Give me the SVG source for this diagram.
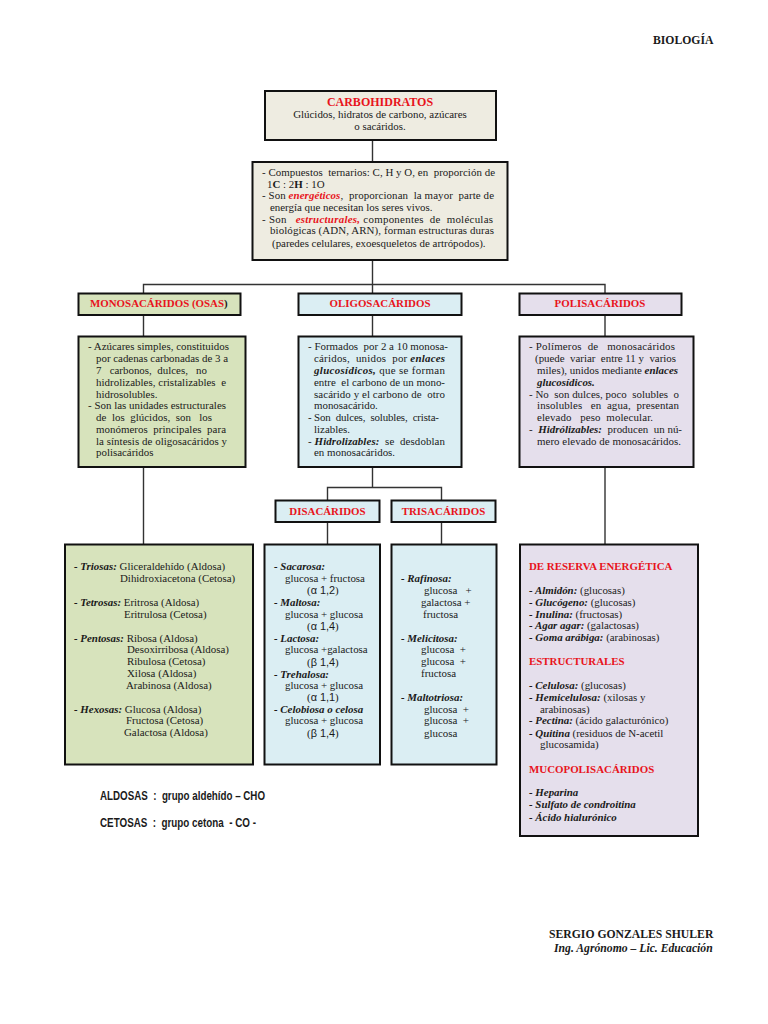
<svg xmlns="http://www.w3.org/2000/svg" width="768" height="1024" viewBox="0 0 768 1024">
<style>
text{font-family:"Liberation Serif","Times New Roman",serif;font-size:10.9px;fill:#1a1a1a;white-space:pre}
.b{font-weight:bold}.i{font-style:italic}.bi{font-weight:bold;font-style:italic}
.r{fill:#e8141c}.rb{fill:#e8141c;font-weight:bold}
.c{text-anchor:middle}
.box{stroke:#111;stroke-width:2}
.beige{fill:#eeece1}.green{fill:#d7e3bc}.blue{fill:#dbeef3}.lilac{fill:#e5dfec}
.con{stroke:#333;stroke-width:1.4;fill:none}
.s{font-family:"Liberation Sans",Arial,sans-serif;font-weight:bold;font-size:12px}
.g{font-family:"Liberation Sans",Arial,sans-serif}
.h{font-size:10.9px}
.f{font-size:11.7px}
</style>
<rect width="768" height="1024" fill="#fff"/>
<g id="connectors">
<path class="con" d="M372.500 140V161M372.500 261V293M143.500 293V284.500H605V293M143.500 315V336M372.500 315V336M605 315V336M143.500 467V544M372.500 467V487.500M327.500 500V487.500H441.500V500M327.500 522V544M441.500 522V544M605 467V544"/>
</g>
<text class="b f" x="653" y="44">BIOLOGÍA</text>
<g id="carbohidratos">
<rect class="box beige" x="265" y="91" width="231" height="49"/>
<text class="rb c" x="380" y="106" style="font-size:12px">CARBOHIDRATOS</text>
<text class="c" x="380" y="117.500">Glúcidos, hidratos de carbono, azúcares</text>
<text class="c" x="380" y="130">o sacáridos.</text>
</g>
<g id="propiedades">
<rect class="box beige" x="252.500" y="162" width="255" height="98"/>
<text x="262" y="176" textLength="233">- Compuestos  ternarios: C, H y O, en  proporción de</text>
<text x="267" y="188">1<tspan class="b">C</tspan> : 2<tspan class="b">H</tspan> : 1O</text>
<text x="262" y="199" textLength="232">- Son <tspan class="bi r">energéticos</tspan>,  proporcionan  la mayor  parte de</text>
<text x="270" y="211">energía que necesitan los seres vivos.</text>
<text x="262" y="223" textLength="231">- Son   <tspan class="bi r">estructurales,</tspan> componentes  de  moléculas</text>
<text x="270" y="234" textLength="224">biológicas (ADN, ARN), forman estructuras duras</text>
<text x="272" y="247">(paredes celulares, exoesqueletos de artrópodos).</text>
</g>
<g id="monosacaridos">
<rect class="box green" x="78.500" y="293.500" width="162" height="21.500"/>
<text class="rb h" x="90" y="307">MONOSACÁRIDOS (OSAS<tspan fill="#1a1a1a">)</tspan></text>
</g>
<g id="oligosacaridos">
<rect class="box blue" x="298.500" y="293.500" width="163" height="21.500"/>
<text class="rb c h" x="380" y="307">OLIGOSACÁRIDOS</text>
</g>
<g id="polisacaridos">
<rect class="box lilac" x="519.500" y="293.500" width="162" height="21.500"/>
<text class="rb c h" x="600" y="307">POLISACÁRIDOS</text>
</g>
<g id="mono-desc">
<rect class="box green" x="78.500" y="336.500" width="167" height="130.500"/>
<text x="88" y="350" textLength="141">- Azúcares simples, constituidos</text>
<text x="96" y="362" textLength="132">por cadenas carbonadas de 3 a</text>
<text x="96" y="374" textLength="111">7   carbonos,  dulces,   no</text>
<text x="96" y="386" textLength="130">hidrolizables, cristalizables  e</text>
<text x="96" y="398">hidrosolubles.</text>
<text x="88" y="409" textLength="138">- Son las unidades estructurales</text>
<text x="96" y="421" textLength="116">de  los  glúcidos,  son   los</text>
<text x="96" y="433" textLength="130">monómeros  principales  para</text>
<text x="96" y="445" textLength="131">la síntesis de oligosacáridos y</text>
<text x="96" y="456">polisacáridos</text>
</g>
<g id="oligo-desc">
<rect class="box blue" x="298.500" y="336.500" width="163" height="130.500"/>
<text x="308" y="350" textLength="140">- Formados  por 2 a 10 monosa-</text>
<text x="314" y="362" textLength="131">cáridos,  unidos  por <tspan class="bi">enlaces</tspan></text>
<text x="314" y="374" textLength="131"><tspan class="bi">glucosídicos,</tspan> que se forman</text>
<text x="314" y="386" textLength="131">entre  el carbono de un mono-</text>
<text x="314" y="398" textLength="131">sacárido y el carbono de  otro</text>
<text x="314" y="409">monosacárido.</text>
<text x="308" y="421" textLength="131">- Son  dulces,  solubles,  crista-</text>
<text x="314" y="433">lizables.</text>
<text x="308" y="445" textLength="137">- <tspan class="bi">Hidrolizables:</tspan>  se  desdoblan</text>
<text x="314" y="456">en monosacáridos.</text>
</g>
<g id="poli-desc">
<rect class="box lilac" x="519.500" y="336.500" width="174" height="130.500"/>
<text x="529" y="350" textLength="146">- Polímeros  de   monosacáridos</text>
<text x="535" y="362" textLength="141">(puede  variar  entre 11 y  varios</text>
<text x="537" y="374" textLength="141">miles), unidos mediante <tspan class="bi">enlaces</tspan></text>
<text x="537" y="386" class="bi">glucosídicos.</text>
<text x="529" y="398" textLength="150">- No  son dulces, poco  solubles  o</text>
<text x="537" y="409" textLength="142">insolubles   en  agua,  presentan</text>
<text x="537" y="421" textLength="116">elevado   peso  molecular.</text>
<text x="529" y="433" textLength="153">-  <tspan class="bi">Hidrólizables:</tspan>  producen  un nú-</text>
<text x="537" y="445" textLength="144">mero elevado de monosacáridos.</text>
</g>
<g id="disacaridos">
<rect class="box blue" x="275.500" y="500.500" width="104" height="21.500"/>
<text class="rb c h" x="327.500" y="515">DISACÁRIDOS</text>
</g>
<g id="trisacaridos">
<rect class="box blue" x="391.500" y="500.500" width="104" height="21.500"/>
<text class="rb c h" x="443.500" y="515">TRISACÁRIDOS</text>
</g>
<g id="mono-lista">
<rect class="box green" x="65" y="544.500" width="188" height="220"/>
<text x="74" y="570"><tspan class="bi">- Triosas:</tspan> Gliceraldehído (Aldosa)</text>
<text x="120" y="582">Dihidroxiacetona (Cetosa)</text>
<text x="74" y="606"><tspan class="bi">- Tetrosas:</tspan> Eritrosa (Aldosa)</text>
<text x="124" y="618">Eritrulosa (Cetosa)</text>
<text x="74" y="642"><tspan class="bi">- Pentosas:</tspan> Ribosa (Aldosa)</text>
<text x="127" y="653">Desoxirribosa (Aldosa)</text>
<text x="127" y="665">Ribulosa (Cetosa)</text>
<text x="127" y="677">Xilosa (Aldosa)</text>
<text x="126" y="689">Arabinosa (Aldosa)</text>
<text x="74" y="713"><tspan class="bi">- Hexosas:</tspan> Glucosa (Aldosa)</text>
<text x="126" y="724">Fructosa (Cetosa)</text>
<text x="124" y="736">Galactosa (Aldosa)</text>
</g>
<g id="di-lista">
<rect class="box blue" x="264.500" y="544.500" width="115.500" height="220"/>
<text class="bi" x="274" y="570">- Sacarosa:</text>
<text x="285" y="582">glucosa + fructosa</text>
<text x="307" y="594">(<tspan class="g">α 1,2</tspan>)</text>
<text class="bi" x="274" y="606">- Maltosa:</text>
<text x="285" y="618">glucosa + glucosa</text>
<text x="307" y="630">(<tspan class="g">α 1,4</tspan>)</text>
<text class="bi" x="274" y="642">- Lactosa:</text>
<text x="285" y="653">glucosa +galactosa</text>
<text x="307" y="666">(<tspan class="g">β 1,4</tspan>)</text>
<text class="bi" x="274" y="678">- Trehalosa:</text>
<text x="285" y="689">glucosa + glucosa</text>
<text x="307" y="701">(<tspan class="g">α 1,1</tspan>)</text>
<text class="bi" x="274" y="713">- Celobiosa o celosa</text>
<text x="285" y="724">glucosa + glucosa</text>
<text x="307" y="737">(<tspan class="g">β 1,4</tspan>)</text>
</g>
<g id="tri-lista">
<rect class="box blue" x="391.500" y="544.500" width="105" height="220"/>
<text class="bi" x="401" y="582">- Rafinosa:</text>
<text x="424" y="594">glucosa   +</text>
<text x="421" y="606">galactosa +</text>
<text x="423" y="618">fructosa</text>
<text class="bi" x="401" y="642">- Melicitosa:</text>
<text x="421" y="653">glucosa  +</text>
<text x="421" y="665">glucosa  +</text>
<text x="421" y="677">fructosa</text>
<text class="bi" x="401" y="701">- Maltotriosa:</text>
<text x="424" y="713">glucosa  +</text>
<text x="424" y="724">glucosa  +</text>
<text x="424" y="737">glucosa</text>
</g>
<g id="poli-lista">
<rect class="box lilac" x="520" y="544.500" width="178" height="291.500"/>
<text class="rb" x="529" y="570">DE RESERVA ENERGÉTICA</text>
<text x="529" y="594"><tspan class="bi">- Almidón:</tspan> (glucosas)</text>
<text x="529" y="606"><tspan class="bi">- Glucógeno:</tspan> (glucosas)</text>
<text x="529" y="618"><tspan class="bi">- Inulina:</tspan> (fructosas)</text>
<text x="529" y="629"><tspan class="bi">- Agar agar:</tspan> (galactosas)</text>
<text x="529" y="641"><tspan class="bi">- Goma arábiga:</tspan> (arabinosas)</text>
<text class="rb" x="529" y="665">ESTRUCTURALES</text>
<text x="529" y="689"><tspan class="bi">- Celulosa:</tspan> (glucosas)</text>
<text x="529" y="701"><tspan class="bi">- Hemicelulosa:</tspan> (xilosas y</text>
<text x="540" y="713">arabinosas)</text>
<text x="529" y="724"><tspan class="bi">- Pectina:</tspan> (ácido galacturónico)</text>
<text x="529" y="737"><tspan class="bi">- Quitina</tspan> (residuos de N-acetil</text>
<text x="540" y="748">glucosamida)</text>
<text class="rb" x="529" y="773">MUCOPOLISACÁRIDOS</text>
<text class="bi" x="529" y="796">- Heparina</text>
<text class="bi" x="529" y="808">- Sulfato de condroitina</text>
<text class="bi" x="529" y="821">- Ácido hialurónico</text>
</g>
<text class="s" x="100" y="800" textLength="165" lengthAdjust="spacingAndGlyphs">ALDOSAS  :  grupo aldehído – CHO</text>
<text class="s" x="100" y="827" textLength="156" lengthAdjust="spacingAndGlyphs">CETOSAS  :  grupo cetona  - CO -</text>
<text class="b f" x="549" y="938">SERGIO GONZALES SHULER</text>
<text class="bi f" x="554" y="952">Ing. Agrónomo – Lic. Educación</text>
</svg>
